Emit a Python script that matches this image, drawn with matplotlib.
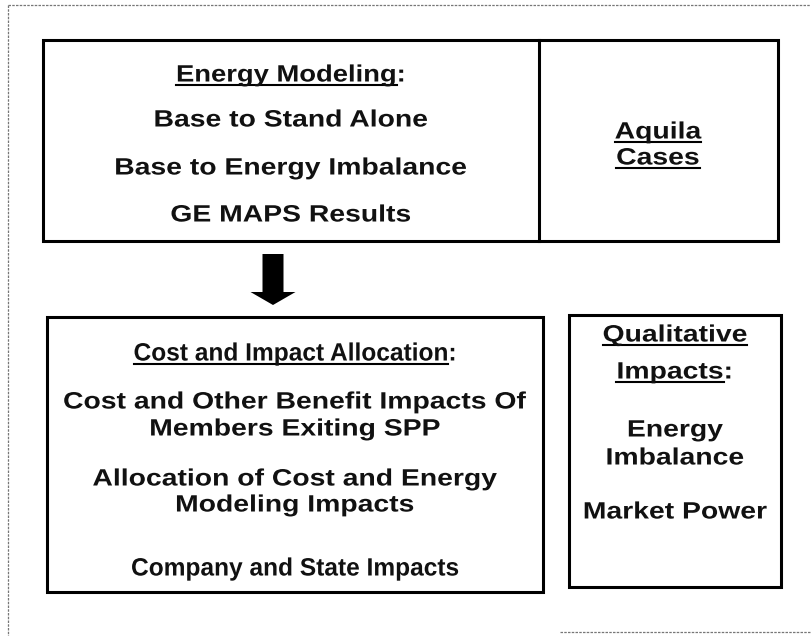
import matplotlib
matplotlib.use("Agg")
import matplotlib.pyplot as plt
from matplotlib.patches import Rectangle, FancyArrow
from matplotlib.patheffects import AbstractPathEffect
from matplotlib.transforms import Affine2D

plt.rcParams['font.family'] = ['Liberation Sans', 'DejaVu Sans']

W, H = 812, 636

# text of each panel: (label, underlined part or None)
model_lines = [("Energy Modeling:", "Energy Modeling"),
               ("Base to Stand Alone", None),
               ("Base to Energy Imbalance", None),
               ("GE MAPS Results", None)]
model_y = [73, 118, 166, 213]

aquila_lines = [("Aquila", "Aquila"), ("Cases", "Cases")]
aquila_y = [130, 156]

alloc_lines = [("Cost and Impact Allocation:", "Cost and Impact Allocation"),
               ("Cost and Other Benefit Impacts Of", None),
               ("Members Exiting SPP", None),
               ("Allocation of Cost and Energy", None),
               ("Modeling Impacts", None),
               ("Company and State Impacts", None)]
alloc_y = [352, 400, 427, 477, 503, 567]

qual_lines = [("Qualitative", "Qualitative"), ("Impacts:", "Impacts"),
              ("Energy", None), ("Imbalance", None), ("Market Power", None)]
qual_y = [333, 370, 428, 456, 510]

# the scan is wider than tall, so the lettering is stretched sideways
narrow = {"Cost and Impact Allocation:", "Company and State Impacts"}


class Stretch(AbstractPathEffect):
    def __init__(self, cx, sx):
        super().__init__()
        self.cx, self.sx = cx, sx

    def draw_path(self, renderer, gc, tpath, affine, rgbFace=None):
        st = Affine2D().translate(-self.cx, 0).scale(self.sx, 1).translate(self.cx, 0)
        renderer.draw_path(gc, tpath, affine + st, rgbFace)


fig = plt.figure(figsize=(W / 100, H / 100), dpi=100)
ax = fig.add_axes([0, 0, 1, 1])
ax.set_xlim(0, W)
ax.set_ylim(H, 0)
ax.axis('off')

# scanned page frame
frame_kw = dict(color='#777777', lw=0.9, ls=(0, (2, 1)))
ax.plot([8, 8], [5, H], **frame_kw)
ax.plot([8, W], [5, 5], **frame_kw)
ax.plot([560, W], [632, 632], **frame_kw)

# boxes
box_kw = dict(fill=False, ec='black', lw=2.2)
ax.add_patch(Rectangle((43, 40), 735, 201, **box_kw))
ax.plot([539, 539], [40, 241], color='black', lw=2.2)
ax.add_patch(Rectangle((47, 317), 496, 275, **box_kw))
ax.add_patch(Rectangle((569, 315), 212, 272, **box_kw))

# down arrow
ax.add_patch(FancyArrow(273, 254, 0, 51, width=21, head_width=45,
                        head_length=13, length_includes_head=True,
                        color='black', lw=0))

texts = []


def put(lines, ys, cx):
    for (label, under), y in zip(lines, ys):
        if label in narrow:
            fs, sx = 18, 0.98
        elif label == "Energy Modeling:":
            fs, sx = 17, 1.16
        else:
            fs, sx = 17, 1.2
        t = ax.text(cx, y + 8.5, label, ha='center', va='baseline',
                    fontsize=fs, fontweight='bold', color='#111111',
                    path_effects=[Stretch(cx, sx)])
        texts.append((t, cx, y + 8.5, fs, sx, under))


put(model_lines, model_y, 291)
put(aquila_lines, aquila_y, 658)
put(alloc_lines, alloc_y, 295)
put(qual_lines, qual_y, 675)

fig.canvas.draw()
rend = fig.canvas.get_renderer()
for t, cx, base, fs, sx, under in texts:
    if under is None:
        continue
    w_full = t.get_window_extent(rend).width
    tmp = ax.text(0, 0, under, fontsize=fs, fontweight='bold')
    w_part = tmp.get_window_extent(rend).width
    tmp.remove()
    x0 = cx - w_full * sx / 2
    ax.plot([x0, x0 + w_part * sx], [base + 3, base + 3], color='black', lw=1.5)

fig.savefig("out.png", dpi=100)
